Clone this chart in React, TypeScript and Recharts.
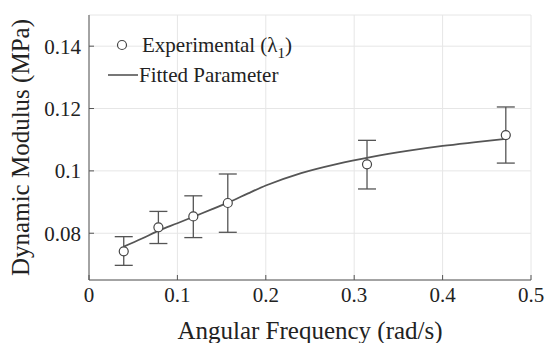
import React from 'react';
import { ComposedChart, Scatter, Line, XAxis, YAxis, CartesianGrid, ErrorBar, Label } from 'recharts';

// experimental points (lambda 1)
const freq = [0.0393, 0.0785, 0.118, 0.157, 0.3145, 0.4715];
const modulus = [0.0742, 0.0819, 0.0854, 0.0897, 0.1021, 0.1115];
const errLow = [0.0045, 0.0052, 0.0068, 0.0094, 0.0079, 0.009];
const errHigh = [0.0047, 0.0051, 0.0066, 0.0093, 0.0077, 0.009];

// fitted curve
const fitX = [0.0393, 0.06, 0.08, 0.1, 0.12, 0.14, 0.16, 0.18, 0.2, 0.24, 0.28, 0.32, 0.36, 0.4, 0.44, 0.4715];
const fitY = [0.0757, 0.0783, 0.081, 0.0832, 0.0855, 0.0878, 0.0902, 0.0928, 0.0953, 0.0993, 0.1022, 0.1045, 0.1064, 0.108, 0.1093, 0.1103];

const xTicks = [0, 0.1, 0.2, 0.3, 0.4, 0.5];
const yTicks = [0.08, 0.1, 0.12, 0.14];

const expData = freq.map((x, i) => ({ x, y: modulus[i], err: [errLow[i], errHigh[i]] }));
const fitData = fitX.map((x, i) => ({ x, y: fitY[i] }));

const font = '"Liberation Serif", Tinos, "Times New Roman", Times, "DejaVu Serif", serif';
const axisColor = '#555';

const Marker = (props: any) => (
  <circle cx={props.cx} cy={props.cy} r={4.5} fill="#fff" stroke="#444" strokeWidth={1.2} />
);

// legend sits inside the plot, top-left
const LegendBox = () => (
  <div style={{ position: 'absolute', left: 108, top: 32, fontFamily: font, fontSize: 21, color: '#222', lineHeight: '26px' }}>
    <div style={{ display: 'flex', alignItems: 'center', height: 26 }}>
      <svg width={34} height={20}>
        <circle cx={14} cy={10} r={4.5} fill="#fff" stroke="#444" strokeWidth={1.2} />
      </svg>
      <span>
        Experimental (λ<sub style={{ fontSize: 15, verticalAlign: -6, lineHeight: 0 }}>1</sub>)
      </span>
    </div>
    <div style={{ display: 'flex', alignItems: 'center', height: 26, marginTop: 4 }}>
      <svg width={31} height={20}>
        <line x1={0} y1={10} x2={30} y2={10} stroke="#555" strokeWidth={1.6} />
      </svg>
      <span>Fitted Parameter</span>
    </div>
  </div>
);

export default function App() {
  return (
    <div style={{ position: 'absolute', left: 0, top: 0, width: 546, height: 343, background: '#fff', fontFamily: font }}>
      <ComposedChart width={546} height={343} margin={{ top: 15, right: 15, bottom: 0, left: 0 }} style={{ fontFamily: font }}>
        <CartesianGrid stroke="#e6e6e6" strokeWidth={1} />
        <XAxis
          type="number"
          dataKey="x"
          domain={[0, 0.5]}
          ticks={xTicks}
          tickFormatter={(v: number) => String(v)}
          height={63}
          stroke={axisColor}
          tickSize={-5}
          tickMargin={12}
          tick={{ fill: '#222', fontSize: 21, fontFamily: font }}
        >
          <Label value="Angular Frequency (rad/s)" position="insideBottom" offset={4} style={{ fill: '#222', fontSize: 25, fontFamily: font }} />
        </XAxis>
        <YAxis
          type="number"
          domain={[0.065, 0.15]}
          ticks={yTicks}
          tickFormatter={(v: number) => String(v)}
          width={89}
          stroke={axisColor}
          tickSize={-5}
          tickMargin={13}
          tick={{ fill: '#222', fontSize: 21, fontFamily: font }}
        >
          <Label value="Dynamic Modulus (MPa)" angle={-90} position="insideLeft" offset={20} style={{ fill: '#222', fontSize: 25, fontFamily: font, textAnchor: 'middle' }} />
        </YAxis>
        <Scatter data={expData} dataKey="y" shape={Marker} isAnimationActive={false}>
          <ErrorBar dataKey="err" direction="y" width={9} stroke="#555" strokeWidth={1.3} />
        </Scatter>
        <Line data={fitData} dataKey="y" type="monotone" stroke="#555" strokeWidth={1.8} dot={false} isAnimationActive={false} />
      </ComposedChart>
      <LegendBox />
    </div>
  );
}
